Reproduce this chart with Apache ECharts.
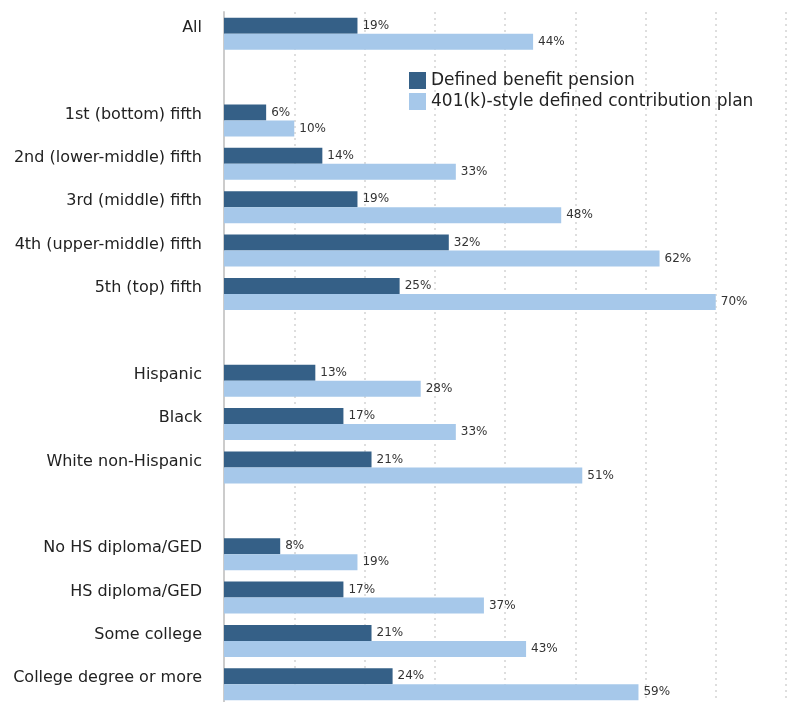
<!DOCTYPE html>
<html><head><meta charset="utf-8">
<script src="https://cdn.jsdelivr.net/npm/echarts@6/dist/echarts.min.js"></script>
<style>html,body{margin:0;padding:0;background:#fff}#c{width:796px;height:702px}</style>
</head><body><div id="c"></div>
<script>
var categories = ['All','', '1st (bottom) fifth','2nd (lower-middle) fifth','3rd (middle) fifth','4th (upper-middle) fifth','5th (top) fifth','', 'Hispanic','Black','White non-Hispanic','', 'No HS diploma/GED','HS diploma/GED','Some college','College degree or more'];
var definedBenefit = [19,null,6,14,19,32,25,null,13,17,21,null,8,17,21,24];
var definedContribution = [44,null,10,33,48,62,70,null,28,33,51,null,19,37,43,59];
var seriesNames = ['Defined benefit pension','401(k)-style defined contribution plan'];
var FONT = 'DejaVu Sans';
var chart = echarts.init(document.getElementById('c'));
function lbl(){return {show:true,position:'right',distance:5,formatter:function(p){return p.value==null?'':p.value+'%';},color:'#333',fontSize:12,fontFamily:FONT};}
chart.setOption({
  animation:false,
  textStyle:{fontFamily:FONT},
  legend:{orient:'vertical',left:404,top:67,itemWidth:17,itemHeight:17,itemGap:4,icon:'rect',
    textStyle:{fontSize:17,color:'#222',fontFamily:FONT},
    data:seriesNames},
  grid:{left:224,top:12,right:10,height:694,containLabel:false,outerBoundsMode:'none'},
  xAxis:{type:'value',min:0,max:80,interval:10,axisLabel:{show:false},axisTick:{show:false},axisLine:{show:false},
    splitLine:{show:true,lineStyle:{color:'#dedede',type:[2,4],width:2}}},
  yAxis:{type:'category',inverse:true,data:categories,axisTick:{show:false},
    axisLine:{show:true,lineStyle:{color:'#cccccc',width:2}},
    axisLabel:{fontSize:16,color:'#222',margin:22,fontFamily:FONT,verticalAlign:'bottom',lineHeight:12}},
  series:[
    {name:seriesNames[0],type:'bar',data:definedBenefit,barGap:'0%',barCategoryGap:'26%',itemStyle:{color:'#356087'},label:lbl()},
    {name:seriesNames[1],type:'bar',data:definedContribution,itemStyle:{color:'#a6c8ea'},label:lbl()}
  ]
});
</script></body></html>
